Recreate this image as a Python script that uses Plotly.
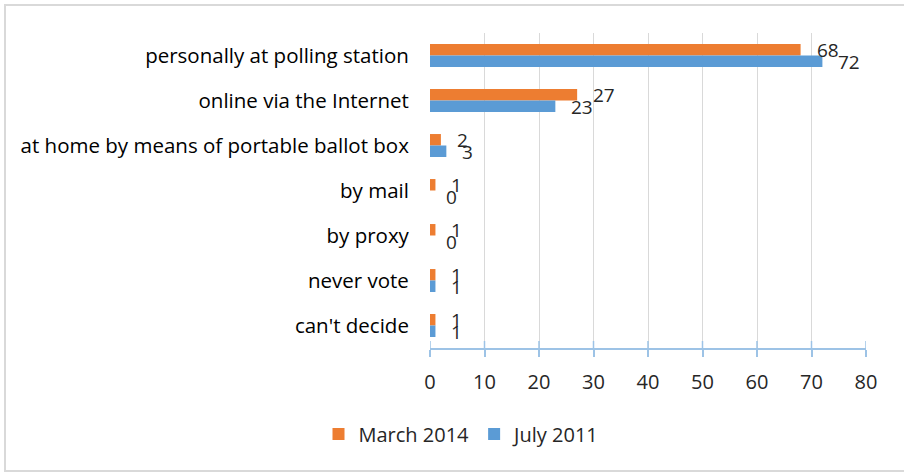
import plotly.graph_objects as go

categories = [
    "personally at polling station",
    "online via the Internet",
    "at home by means of portable ballot box",
    "by mail",
    "by proxy",
    "never vote",
    "can't decide",
]
march_2014 = [68, 27, 2, 1, 1, 1, 1]
july_2011 = [72, 23, 3, 0, 0, 1, 1]
x_ticks = [0, 10, 20, 30, 40, 50, 60, 70, 80]

ORANGE = "#ED7D31"
BLUE = "#5B9BD5"
AXIS = "#9DC3E6"
FONT = "Open Sans"
TXT = "#262626"

fig = go.Figure()
fig.add_trace(go.Bar(y=categories, x=march_2014, orientation="h", name="March 2014",
                     marker=dict(color=ORANGE, line=dict(width=0))))
fig.add_trace(go.Bar(y=categories, x=july_2011, orientation="h", name="July 2011",
                     marker=dict(color=BLUE, line=dict(width=0))))

annotations = []
for cat, v in zip(categories, march_2014):
    annotations.append(dict(x=v, y=cat, xref="x", yref="y", text=str(v), showarrow=False,
                            xanchor="left", yanchor="middle", xshift=14, yshift=6,
                            font=dict(family=FONT, size=19, color=TXT)))
for cat, v in zip(categories, july_2011):
    annotations.append(dict(x=v, y=cat, xref="x", yref="y", text=str(v), showarrow=False,
                            xanchor="left", yanchor="middle", xshift=14, yshift=-6,
                            font=dict(family=FONT, size=19, color=TXT)))

H = 315.0
W = 436.0
shapes = [dict(type="line", xref="x", yref="paper", x0=t, x1=t, y0=0, y1=7 / H,
               line=dict(color=AXIS, width=1.5), layer="above") for t in x_ticks]
shapes.append(dict(type="rect", xref="paper", yref="paper",
                   x0=(5 - 430) / W, x1=(912 - 430) / W,
                   y0=(348 - 471) / H, y1=(348 - 5) / H,
                   line=dict(color="#D9D9D9", width=2), fillcolor="rgba(0,0,0,0)", layer="below"))

fig.update_layout(
    width=904, height=473,
    margin=dict(l=430, r=38, t=33, b=125, autoexpand=False),
    paper_bgcolor="white", plot_bgcolor="white",
    barmode="group", bargap=0.49, bargroupgap=0,
    font=dict(family=FONT, size=19, color=TXT),
    showlegend=True,
    legend=dict(orientation="h", x=(462 - 430) / W, xanchor="center",
                y=(348 - 434) / H, yanchor="middle", tracegroupgap=0,
                font=dict(family=FONT, size=20, color=TXT), traceorder="normal"),
    xaxis=dict(range=[0, 80], tickvals=x_ticks,
               showgrid=True, gridcolor="#D9D9D9", gridwidth=1,
               showline=True, linecolor=AXIS, linewidth=1.5,
               ticks="outside", ticklen=7, tickcolor=AXIS, tickwidth=1.5,
               zeroline=False, automargin=False, ticklabelstandoff=8,
               tickfont=dict(family=FONT, size=20, color=TXT)),
    yaxis=dict(autorange="reversed", showgrid=False, showline=False, zeroline=False,
               ticks="outside", ticklen=16, tickcolor="rgba(0,0,0,0)", automargin=False,
               tickfont=dict(family=FONT, size=20.5, color="#000000")),
    annotations=annotations,
    shapes=shapes,
)

fig.write_html("out.html", config={"displayModeBar": False},
               post_script="document.body.style.margin='0';document.body.style.overflow='hidden';")
